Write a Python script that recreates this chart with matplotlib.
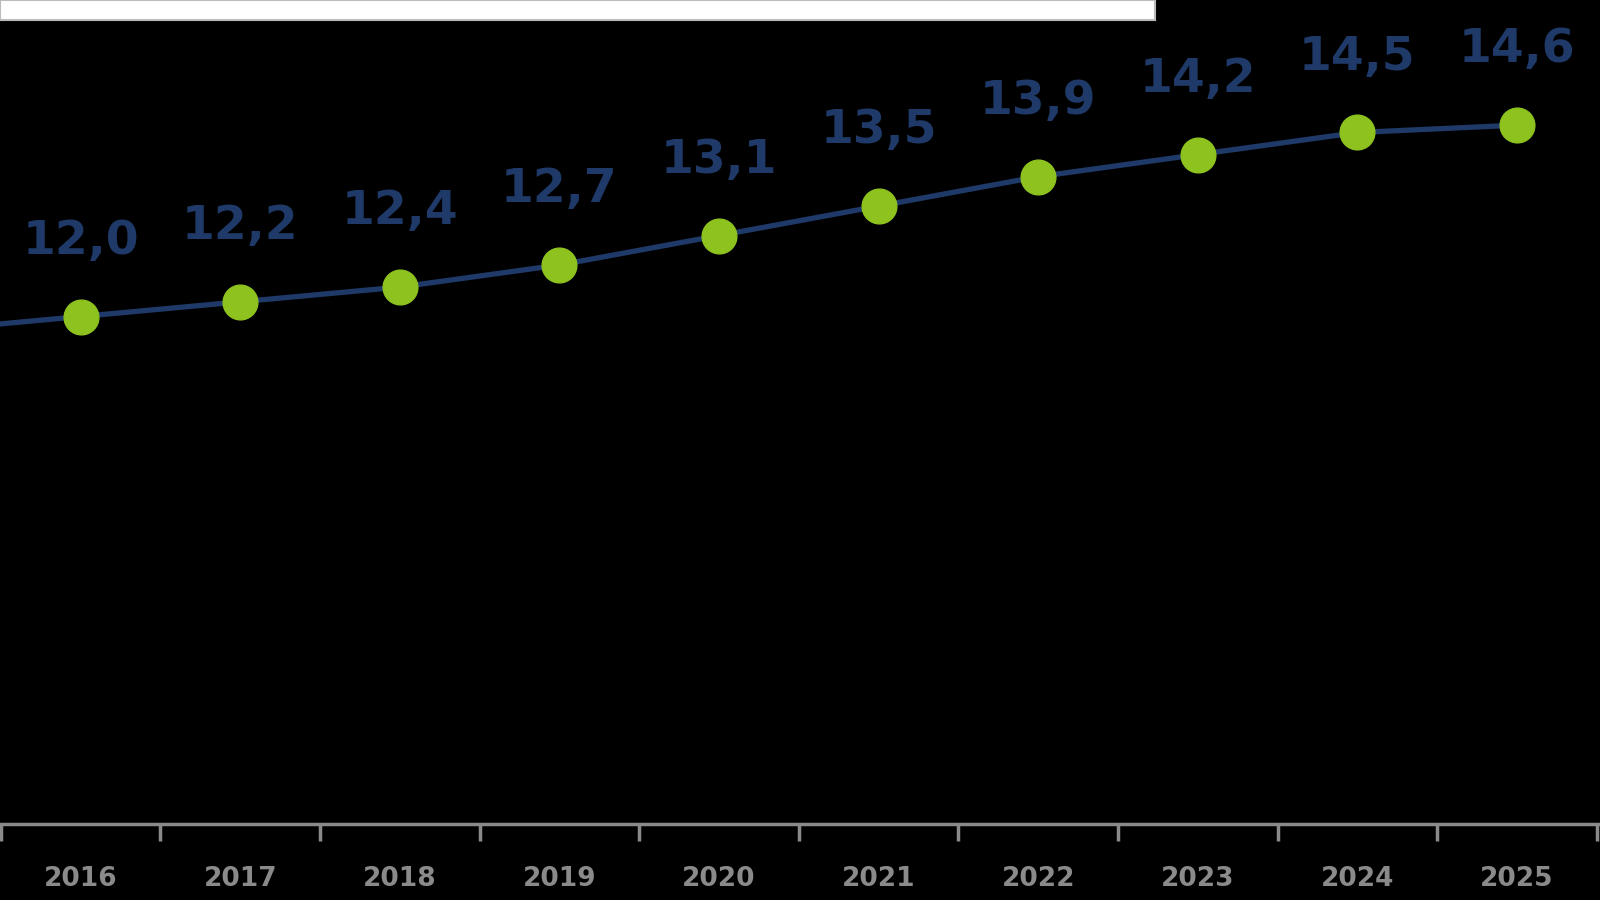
import matplotlib
matplotlib.use("Agg")
import matplotlib.pyplot as plt
from matplotlib.patches import Rectangle
import numpy as np

years = ["2016","2017","2018","2019","2020","2021","2022","2023","2024","2025"]
values = [12.0,12.2,12.4,12.7,13.1,13.5,13.9,14.2,14.5,14.6]
prev_value = 11.8  # partially visible segment to the left

fig = plt.figure(figsize=(16,9), dpi=100, facecolor="black")
ax = fig.add_axes([0, 0.084, 1, 0.916])
ax.set_facecolor("black")
x = np.arange(len(years))
ax.plot(np.r_[-1, x], [prev_value]+values, color="#1f3a68", lw=3.8, zorder=2)
ax.plot(x, values, 'o', color="#8dc21f", ms=25, zorder=3)
for xi, v in zip(x, values):
    ax.annotate(f"{v:.1f}".replace(".", ","), (xi, v), xytext=(0, 38), textcoords="offset points",
                ha="center", va="bottom", fontsize=34, fontweight="bold", color="#1f3a68")
ax.set_xlim(-0.505, 9.52)
ax.set_ylim(5.1, 16.3)
for s in ["top","left","right"]:
    ax.spines[s].set_visible(False)
ax.spines["bottom"].set_color("#8a8a8a")
ax.spines["bottom"].set_linewidth(2.5)
ax.set_yticks([])
ax.set_xticks(x)
ax.set_xticklabels(years, fontsize=19, fontweight="bold", color="#8a8a8a")
ax.tick_params(axis="x", which="major", length=0, pad=30)
ax.set_xticks(np.arange(-0.5, 10, 1), minor=True)
ax.tick_params(axis="x", which="minor", length=12, width=2.5, color="#8a8a8a")
fig.patches.append(Rectangle((0, 1-20/900), 1155/1600, 20/900, transform=fig.transFigure,
                             facecolor="white", edgecolor="#bbbbbb", lw=1.5))
fig.savefig("out.png", dpi=100, facecolor="black")
